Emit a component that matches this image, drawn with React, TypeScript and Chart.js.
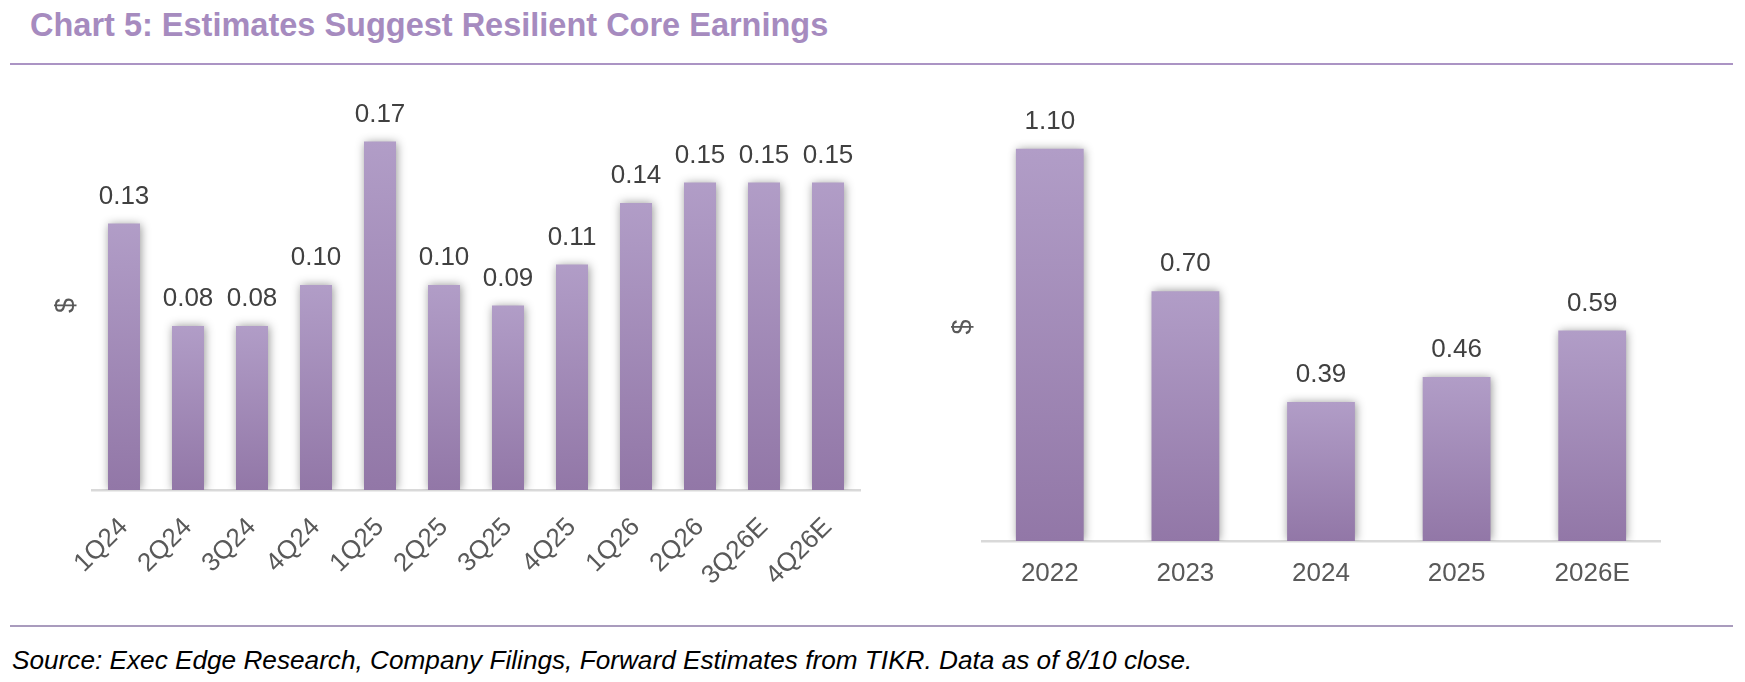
import React, { useEffect, useRef } from "react";
import { Chart, registerables } from "chart.js";

Chart.register(...registerables);

const FONT = "'Liberation Sans', Arial, Helvetica, sans-serif";

// quarterly core EPS
const quarterLabels = ["1Q24", "2Q24", "3Q24", "4Q24", "1Q25", "2Q25", "3Q25", "4Q25", "1Q26", "2Q26", "3Q26E", "4Q26E"];
const quarterEps = [0.13, 0.08, 0.08, 0.1, 0.17, 0.1, 0.09, 0.11, 0.14, 0.15, 0.15, 0.15];

// annual core EPS
const yearLabels = ["2022", "2023", "2024", "2025", "2026E"];
const yearEps = [1.1, 0.7, 0.39, 0.46, 0.59];

const barShadowAndLabels = {
  id: "barShadowAndLabels",
  beforeDatasetsDraw(chart: Chart) {
    const c = chart.ctx;
    c.save();
    c.shadowColor = "rgba(0,0,0,0.42)";
    c.shadowBlur = 9;
    c.shadowOffsetX = 1;
  },
  afterDatasetsDraw(chart: Chart) {
    const c = chart.ctx;
    c.restore();
    c.save();
    c.font = `26px ${FONT}`;
    c.fillStyle = "#404040";
    c.textAlign = "center";
    c.textBaseline = "alphabetic";
    const values = chart.data.datasets[0].data as number[];
    chart.getDatasetMeta(0).data.forEach((bar: any, i: number) => {
      c.fillText(values[i].toFixed(2), bar.x, bar.y - 20);
    });
    c.restore();
  },
};

type PanelProps = {
  labels: string[];
  values: number[];
  yMax: number;
  left: number;
  top: number;
  width: number;
  height: number;
  pad: { left: number; right: number; top: number; bottom: number };
  yWidth: number;
  xHeight: number;
  tickPad: number;
  rotation: number;
};

const BarPanel: React.FC<PanelProps> = (p) => {
  const canvasRef = useRef<HTMLCanvasElement | null>(null);

  useEffect(() => {
    const ctx = canvasRef.current?.getContext("2d");
    if (!ctx) return;

    const chart = new Chart(ctx, {
      type: "bar",
      data: {
        labels: p.labels,
        datasets: [
          {
            data: p.values,
            categoryPercentage: 1,
            barPercentage: 0.5,
            borderWidth: 0,
            backgroundColor: (context: any) => {
              const ch = context.chart;
              const ys = ch.scales?.y;
              if (!ys || !ch.chartArea) return "#a08ab8";
              const v = context.raw as number;
              const yTop = ys.getPixelForValue(v);
              const yBot = ys.getPixelForValue(0);
              const g = ch.ctx.createLinearGradient(0, yTop, 0, yBot);
              g.addColorStop(0, "#b19dc7");
              g.addColorStop(1, "#9277a7");
              return g;
            },
          },
        ],
      },
      options: {
        responsive: false,
        animation: false,
        layout: { padding: p.pad },
        plugins: {
          legend: { display: false },
          tooltip: { enabled: false },
        },
        scales: {
          x: {
            offset: true,
            grid: { display: false },
            border: { display: true, color: "#d9d9d9", width: 2.5 },
            ticks: {
              color: "#595959",
              font: { family: FONT, size: 26 },
              maxRotation: p.rotation,
              minRotation: p.rotation,
              padding: p.tickPad,
              autoSkip: false,
            },
            afterFit: (s: any) => {
              s.height = p.xHeight;
            },
          },
          y: {
            min: 0,
            max: p.yMax,
            grid: { display: false },
            border: { display: false },
            ticks: { display: false },
            title: {
              display: true,
              text: "$",
              color: "#595959",
              font: { family: FONT, size: 27 },
              padding: { top: 4, bottom: 4 },
            },
            afterFit: (s: any) => {
              s.width = p.yWidth;
            },
          },
        },
      },
      plugins: [barShadowAndLabels],
    });

    return () => {
      chart.destroy();
    };
  }, []);

  return (
    <canvas
      ref={canvasRef}
      width={p.width}
      height={p.height}
      style={{ position: "absolute", left: p.left, top: p.top, display: "block" }}
    />
  );
};

const App: React.FC = () => {
  return (
    <div
      style={{
        position: "absolute",
        left: 0,
        top: 0,
        width: 1745,
        height: 682,
        background: "#fff",
        overflow: "hidden",
        fontFamily: FONT,
      }}
    >
      <div
        style={{
          position: "absolute",
          left: 30,
          top: 9,
          fontSize: 32.5,
          lineHeight: 1,
          fontWeight: "bold",
          color: "#a68bbf",
          whiteSpace: "nowrap",
        }}
      >
        Chart 5: Estimates Suggest Resilient Core Earnings
      </div>
      <div style={{ position: "absolute", left: 10, top: 63, width: 1723, height: 1.5, background: "#ab94c4" }} />

      <BarPanel
        labels={quarterLabels}
        values={quarterEps}
        yMax={0.18}
        left={0}
        top={70}
        width={880}
        height={550}
        pad={{ left: 46, right: 20, top: 51, bottom: 10 }}
        yWidth={46}
        xHeight={120}
        tickPad={14}
        rotation={45}
      />
      <BarPanel
        labels={yearLabels}
        values={yearEps}
        yMax={1.2}
        left={880}
        top={70}
        width={865}
        height={550}
        pad={{ left: 63, right: 85, top: 43, bottom: 9 }}
        yWidth={39}
        xHeight={70}
        tickPad={9}
        rotation={0}
      />

      <div style={{ position: "absolute", left: 10, top: 625, width: 1723, height: 1.5, background: "#a99bbd" }} />
      <div
        style={{
          position: "absolute",
          left: 12,
          top: 647,
          fontSize: 26.2,
          lineHeight: 1,
          fontStyle: "italic",
          color: "#000",
          whiteSpace: "nowrap",
        }}
      >
        Source: Exec Edge Research, Company Filings, Forward Estimates from TIKR. Data as of 8/10 close.
      </div>
    </div>
  );
};

export default App;
